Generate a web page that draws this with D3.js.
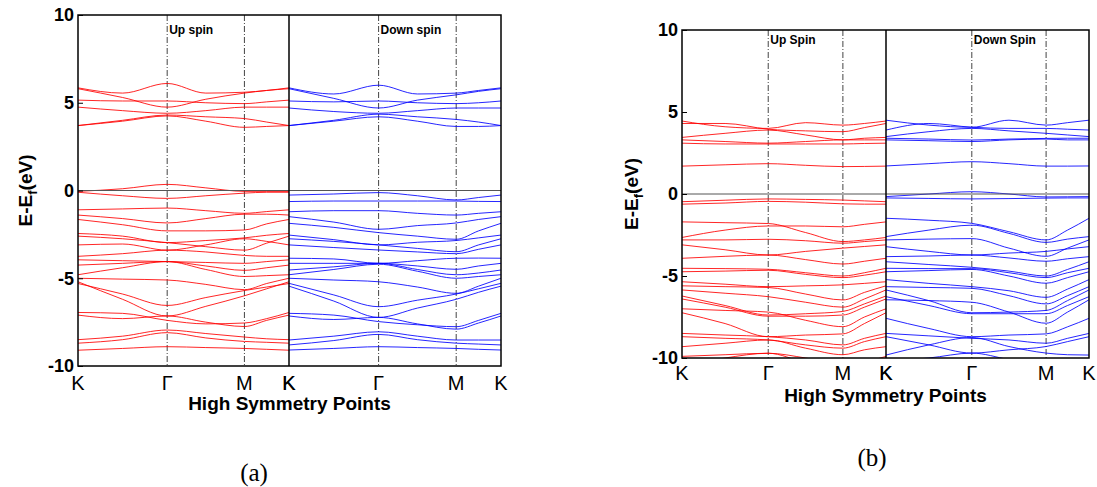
<!DOCTYPE html>
<html>
<head>
<meta charset="utf-8">
<script src="https://cdn.jsdelivr.net/npm/d3@7"></script>
<style>
  body { margin: 0; background: #fff; }
  svg { display: block; }
  .tick-y { font: bold 18px "Liberation Sans", Arial, sans-serif; }
  .tick-k { font: 20px "Liberation Sans", Arial, sans-serif; }
  .axis-title { font: bold 19px "Liberation Sans", Arial, sans-serif; }
  .spin-label { font: bold 12px "Liberation Sans", Arial, sans-serif; }
  .caption { font: 25px "Liberation Serif", "Times New Roman", serif; }
</style>
</head>
<body>
<svg id="chart" width="1097" height="487"></svg>
<script>
// high symmetry path K - Γ - M - K (lengths in units of |KΓ|)
const kLabels = ['K', 'Γ', 'M', 'K'];
const kPos = [0, 1, 1.866, 2.366];
// k samples where band energies were read: K, mid, Γ, mid, M, mid, K
const kSample = [0, 0.5, 1, 1.433, 1.866, 2.116, 2.366];
const yTicks = [10, 5, 0, -5, -10];

// (a) up spin
const aUp = [
  [3.7, 3.95, 4.25, 3.95, 3.6, 3.65, 3.7],
  [3.7, 4.0, 4.3, 4.2, 4.1, 3.9, 3.7],
  [4.75, 4.55, 4.4, 4.55, 4.75, 4.75, 4.75],
  [5.15, 5.1, 5.1, 5.0, 4.95, 5.05, 5.15],
  [5.8, 5.3, 4.75, 5.2, 5.55, 5.7, 5.8],
  [5.85, 5.55, 6.1, 5.55, 5.6, 5.7, 5.85],
  [-0.05, 0.1, 0.35, 0.15, -0.05, -0.05, -0.05],
  [-0.1, -0.3, -0.45, -0.3, -0.15, -0.1, -0.1],
  [-1.1, -1.05, -1.0, -1.15, -1.3, -1.2, -1.1],
  [-1.4, -1.6, -1.85, -1.6, -1.35, -1.35, -1.4],
  [-1.65, -1.95, -2.3, -2.3, -2.25, -1.9, -1.65],
  [-2.45, -2.6, -2.97, -2.85, -2.7, -2.55, -2.45],
  [-2.6, -2.75, -2.97, -3.2, -3.4, -3.0, -2.6],
  [-3.1, -3.05, -3.4, -3.1, -2.75, -2.9, -3.1],
  [-3.75, -3.6, -3.4, -3.5, -3.7, -3.75, -3.75],
  [-3.95, -4.0, -4.05, -4.1, -4.15, -4.05, -3.95],
  [-4.25, -4.15, -4.05, -4.3, -4.55, -4.4, -4.25],
  [-4.8, -4.4, -4.05, -4.5, -4.9, -4.85, -4.8],
  [-5.0, -5.05, -5.1, -5.35, -5.65, -5.3, -5.0],
  [-5.3, -5.9, -6.55, -6.1, -5.7, -5.5, -5.3],
  [-5.2, -6.2, -7.15, -6.6, -6.0, -5.6, -5.2],
  [-6.95, -7.0, -7.4, -7.6, -7.55, -7.3, -6.95],
  [-7.1, -7.3, -7.15, -7.5, -7.75, -7.4, -7.1],
  [-8.5, -8.3, -7.95, -8.15, -8.35, -8.45, -8.5],
  [-8.7, -8.5, -8.1, -8.4, -8.6, -8.65, -8.7],
  [-9.1, -9.0, -8.9, -8.95, -9.0, -9.05, -9.1]
];

// (a) down spin
const aDown = [
  [3.7, 3.95, 4.2, 3.95, 3.65, 3.65, 3.7],
  [3.7, 4.0, 4.35, 4.2, 4.05, 3.9, 3.7],
  [4.7, 4.5, 4.4, 4.55, 4.7, 4.7, 4.7],
  [5.1, 5.05, 5.1, 5.0, 4.95, 5.0, 5.1],
  [5.8, 5.25, 4.7, 5.15, 5.45, 5.65, 5.8],
  [5.85, 5.5, 6.0, 5.5, 5.55, 5.7, 5.85],
  [-0.26, -0.2, -0.12, -0.3, -0.54, -0.4, -0.26],
  [-0.63, -0.6, -0.6, -0.6, -0.6, -0.62, -0.63],
  [-1.21, -1.15, -1.15, -1.3, -1.4, -1.3, -1.21],
  [-1.49, -1.8, -2.21, -2.0, -1.85, -1.65, -1.49],
  [-1.87, -2.1, -2.4, -2.6, -2.78, -2.3, -1.87],
  [-2.54, -2.8, -3.1, -2.95, -2.85, -2.7, -2.54],
  [-2.75, -2.9, -3.1, -3.3, -3.49, -3.1, -2.75],
  [-3.1, -3.25, -3.39, -3.5, -3.6, -3.35, -3.1],
  [-3.86, -3.9, -4.15, -4.0, -3.86, -3.85, -3.86],
  [-4.15, -4.15, -4.15, -4.3, -4.49, -4.3, -4.15],
  [-4.53, -4.35, -4.15, -4.5, -4.8, -4.7, -4.53],
  [-4.8, -4.5, -4.2, -4.6, -5.0, -4.9, -4.8],
  [-5.0, -5.1, -5.2, -5.5, -5.86, -5.45, -5.0],
  [-5.29, -5.95, -6.62, -6.25, -5.9, -5.6, -5.29],
  [-5.45, -6.3, -7.23, -6.7, -6.2, -5.8, -5.45],
  [-7.0, -7.1, -7.47, -7.65, -7.76, -7.4, -7.0],
  [-7.15, -7.35, -7.23, -7.6, -7.9, -7.55, -7.15],
  [-8.52, -8.3, -8.05, -8.3, -8.52, -8.52, -8.52],
  [-8.8, -8.55, -8.2, -8.5, -8.7, -8.75, -8.8],
  [-9.09, -9.0, -8.9, -8.95, -9.0, -9.05, -9.09]
];

// (b) up spin
const bUp = [
  [1.7, 1.78, 1.85, 1.75, 1.67, 1.68, 1.7],
  [3.1, 3.05, 3.05, 3.05, 3.05, 3.08, 3.1],
  [3.3, 3.2, 3.1, 3.2, 3.3, 3.3, 3.3],
  [3.45, 3.7, 3.9, 3.6, 3.3, 3.4, 3.45],
  [4.3, 4.3, 3.95, 3.85, 3.8, 4.05, 4.3],
  [4.45, 4.1, 4.0, 4.35, 4.2, 4.3, 4.45],
  [-0.47, -0.38, -0.3, -0.33, -0.37, -0.42, -0.47],
  [-0.62, -0.55, -0.45, -0.5, -0.6, -0.62, -0.62],
  [-1.7, -1.75, -1.8, -2.35, -2.9, -2.8, -2.65],
  [-2.65, -2.2, -1.95, -1.95, -2.0, -1.85, -1.7],
  [-2.8, -2.8, -2.76, -2.85, -3.0, -2.9, -2.8],
  [-3.1, -3.4, -3.72, -3.5, -3.3, -3.2, -3.1],
  [-3.92, -3.8, -3.72, -4.0, -4.27, -4.1, -3.92],
  [-4.53, -4.55, -4.59, -4.8, -5.0, -4.8, -4.53],
  [-4.74, -4.7, -4.65, -4.9, -5.1, -4.95, -4.74],
  [-5.35, -5.5, -5.65, -5.6, -5.54, -5.45, -5.35],
  [-5.6, -5.65, -5.7, -6.1, -6.46, -6.0, -5.6],
  [-5.85, -6.05, -6.26, -6.6, -6.9, -6.4, -5.85],
  [-6.22, -6.8, -7.38, -7.3, -7.16, -6.7, -6.22],
  [-6.4, -6.9, -7.45, -7.45, -7.38, -6.9, -6.4],
  [-7.0, -7.1, -7.2, -7.7, -8.09, -7.5, -7.0],
  [-7.24, -7.9, -8.7, -8.6, -8.53, -7.9, -7.24],
  [-8.5, -8.6, -8.7, -8.9, -9.2, -8.8, -8.5],
  [-8.7, -8.8, -8.9, -9.2, -9.4, -9.0, -8.7],
  [-9.31, -9.1, -8.9, -9.4, -9.8, -9.5, -9.31],
  [-9.9, -9.8, -9.71, -10.3, -10.8, -10.3, -9.9],
  [-10.5, -10.0, -9.71, -10.0, -10.4, -10.5, -10.5]
];

// (b) down spin
const bDown = [
  [1.71, 1.85, 1.97, 1.85, 1.7, 1.7, 1.71],
  [3.3, 3.25, 3.2, 3.3, 3.35, 3.3, 3.3],
  [3.4, 3.35, 3.29, 3.35, 3.39, 3.4, 3.4],
  [3.5, 3.8, 4.0, 3.85, 3.7, 3.6, 3.5],
  [3.9, 4.3, 4.07, 4.0, 4.0, 3.95, 3.9],
  [4.5, 4.2, 4.07, 4.5, 4.2, 4.35, 4.5],
  [-0.16, 0.0, 0.14, 0.0, -0.18, -0.17, -0.16],
  [-0.24, -0.27, -0.3, -0.28, -0.25, -0.24, -0.24],
  [-1.48, -1.6, -1.79, -2.3, -2.8, -2.2, -1.48],
  [-2.6, -2.2, -1.9, -2.4, -2.95, -2.75, -2.6],
  [-2.8, -2.75, -2.72, -3.3, -3.8, -3.3, -2.8],
  [-3.21, -3.5, -3.72, -3.6, -3.5, -3.35, -3.21],
  [-3.82, -3.78, -3.72, -3.9, -4.1, -3.95, -3.82],
  [-4.13, -4.3, -4.47, -4.7, -5.0, -4.6, -4.13],
  [-4.53, -4.55, -4.55, -4.8, -5.1, -4.8, -4.53],
  [-4.74, -4.67, -4.6, -5.0, -5.44, -5.1, -4.74],
  [-5.22, -5.45, -5.65, -5.9, -6.3, -5.8, -5.22],
  [-5.65, -5.7, -5.75, -6.2, -6.7, -6.2, -5.65],
  [-5.85, -6.5, -7.24, -7.2, -7.1, -6.5, -5.85],
  [-6.26, -6.8, -7.3, -7.3, -7.3, -6.8, -6.26],
  [-6.45, -6.5, -6.6, -7.2, -7.88, -7.2, -6.45],
  [-7.58, -8.2, -8.7, -8.6, -8.53, -8.1, -7.58],
  [-8.5, -8.65, -8.8, -8.9, -9.1, -8.8, -8.5],
  [-8.7, -9.2, -9.7, -9.5, -9.3, -9.0, -8.7],
  [-9.82, -9.2, -8.75, -9.3, -9.7, -9.8, -9.82],
  [-10.2, -10.0, -9.7, -10.1, -10.5, -10.4, -10.2]
];

const svg = d3.select('#chart');

const panels = [
  { id: 'a', x0: 78, xm: 289, x1: 501, top: 15, bottom: 366,
    up: aUp, down: aDown, upText: 'Up spin', downText: 'Down spin',
    kLabelY: 390, xTitleY: 410, yTitleX: 32, caption: '(a)', capX: 254, capY: 481 },
  { id: 'b', x0: 682, xm: 886, x1: 1089, top: 30, bottom: 358,
    up: bUp, down: bDown, upText: 'Up Spin', downText: 'Down Spin',
    kLabelY: 380, xTitleY: 402, yTitleX: 638, caption: '(b)', capX: 872, capY: 466 }
];

panels.forEach(p => {
  const g = svg.append('g').attr('class', 'panel-' + p.id);
  const y = d3.scaleLinear().domain([-10, 10]).range([p.bottom, p.top]);

  g.append('clipPath').attr('id', 'clip-' + p.id)
    .append('rect')
    .attr('x', p.x0).attr('y', p.top)
    .attr('width', p.x1 - p.x0).attr('height', p.bottom - p.top);

  const halves = [
    { x: d3.scaleLinear().domain([0, 2.366]).range([p.x0, p.xm]), bands: p.up, color: '#ff0000', label: p.upText },
    { x: d3.scaleLinear().domain([0, 2.366]).range([p.xm, p.x1]), bands: p.down, color: '#0000ff', label: p.downText }
  ];

  const plot = g.append('g').attr('clip-path', `url(#clip-${p.id})`);

  halves.forEach(h => {
    // vertical dash-dot lines at Γ and M
    plot.selectAll(null)
      .data(kPos.slice(1, 3))
      .enter()
      .append('line')
      .attr('x1', d => h.x(d)).attr('x2', d => h.x(d))
      .attr('y1', p.top).attr('y2', p.bottom)
      .attr('stroke', '#444')
      .attr('stroke-width', 1)
      .attr('stroke-dasharray', '6,2,1,2');

    const line = d3.line()
      .x((d, i) => h.x(kSample[i]))
      .y(d => y(d))
      .curve(d3.curveMonotoneX);

    plot.selectAll(null)
      .data(h.bands)
      .enter()
      .append('path')
      .attr('fill', 'none')
      .attr('stroke', h.color)
      .attr('stroke-opacity', 0.85)
      .attr('stroke-width', 1)
      .attr('d', line);

    // K / Γ / M tick labels
    g.selectAll(null)
      .data(kPos)
      .enter()
      .append('text')
      .attr('class', 'tick-k')
      .attr('x', d => h.x(d))
      .attr('y', p.kLabelY)
      .attr('text-anchor', 'middle')
      .text((d, i) => kLabels[i]);

    g.append('text')
      .attr('class', 'spin-label')
      .attr('x', h.x(1) + 2)
      .attr('y', p.top + (p.id === 'a' ? 19 : 14))
      .text(h.label);
  });

  // Fermi level
  g.append('line')
    .attr('x1', p.x0).attr('x2', p.x1)
    .attr('y1', y(0)).attr('y2', y(0))
    .attr('stroke', '#555').attr('stroke-width', 1);

  // frame and divider
  g.append('rect')
    .attr('x', p.x0).attr('y', p.top)
    .attr('width', p.x1 - p.x0).attr('height', p.bottom - p.top)
    .attr('fill', 'none').attr('stroke', '#000').attr('stroke-width', 1.5);
  g.append('line')
    .attr('x1', p.xm).attr('x2', p.xm)
    .attr('y1', p.top).attr('y2', p.bottom)
    .attr('stroke', '#000').attr('stroke-width', 1.5);

  // y axis
  const yAxis = g.append('g')
    .attr('transform', `translate(${p.x0},0)`)
    .call(d3.axisLeft(y).tickValues(yTicks).tickSize(-5).tickPadding(4).tickFormat(d => String(d)));
  yAxis.select('.domain').remove();
  yAxis.selectAll('text').attr('class', 'tick-y').attr('fill', '#000').style('font', null);
  yAxis.selectAll('line').attr('stroke', '#000');

  // axis titles
  g.append('text')
    .attr('class', 'axis-title')
    .attr('x', (p.x0 + p.x1) / 2)
    .attr('y', p.xTitleY)
    .attr('text-anchor', 'middle')
    .text('High Symmetry Points');

  const yt = g.append('text')
    .attr('class', 'axis-title')
    .attr('transform', `translate(${p.yTitleX},${(p.top + p.bottom) / 2}) rotate(-90)`)
    .attr('text-anchor', 'middle');
  yt.append('tspan').text('E-E');
  yt.append('tspan').attr('dy', 5).attr('font-size', 13).text('f');
  yt.append('tspan').attr('dy', -5).text('(eV)');

  g.append('text')
    .attr('class', 'caption')
    .attr('x', p.capX)
    .attr('y', p.capY)
    .attr('text-anchor', 'middle')
    .text(p.caption);
});
</script>
</body>
</html>
